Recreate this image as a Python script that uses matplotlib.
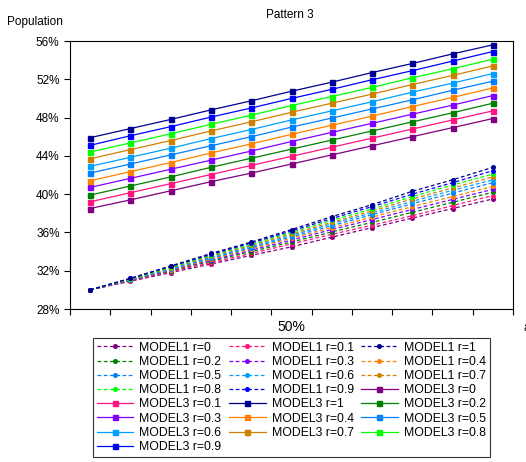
import numpy as np
import matplotlib
matplotlib.use('Agg')
import matplotlib.pyplot as plt
from matplotlib.ticker import FuncFormatter

plt.rcParams['font.family'] = ['Liberation Sans', 'DejaVu Sans']

# r values and colours shared by both models
r_labels = ['0', '0.1', '0.2', '0.3', '0.4', '0.5', '0.6', '0.7', '0.8', '0.9', '1']
colors = ['#800080', '#FF1480', '#008000', '#8000FF', '#FF8000', '#0080FF',
          '#00A0FF', '#D08000', '#00FF00', '#0000FF', '#000090']

# MODEL1 (dashed), population in %
model1 = [
    [30.0, 30.9, 31.8, 32.7, 33.6, 34.5, 35.5, 36.5, 37.5, 38.5, 39.5],
    [30.0, 30.95, 31.9, 32.85, 33.8, 34.8, 35.8, 36.75, 37.75, 38.8, 39.85],
    [30.0, 31.0, 32.0, 33.0, 34.0, 35.0, 36.05, 37.05, 38.1, 39.15, 40.2],
    [30.0, 31.0, 32.05, 33.1, 34.15, 35.2, 36.3, 37.35, 38.4, 39.45, 40.5],
    [30.0, 31.05, 32.1, 33.2, 34.3, 35.4, 36.5, 37.6, 38.7, 39.75, 40.8],
    [30.0, 31.05, 32.15, 33.3, 34.4, 35.55, 36.7, 37.85, 39.0, 40.1, 41.2],
    [30.0, 31.1, 32.25, 33.4, 34.55, 35.7, 36.9, 38.05, 39.25, 40.4, 41.5],
    [30.0, 31.1, 32.3, 33.5, 34.65, 35.85, 37.05, 38.25, 39.5, 40.65, 41.8],
    [30.0, 31.15, 32.35, 33.6, 34.75, 36.0, 37.25, 38.45, 39.75, 40.95, 42.1],
    [30.0, 31.2, 32.45, 33.7, 34.9, 36.15, 37.45, 38.7, 40.0, 41.2, 42.45],
    [30.0, 31.2, 32.5, 33.8, 35.0, 36.3, 37.65, 38.9, 40.3, 41.5, 42.8],
]

# MODEL3 (solid)
model3 = [
    [38.5, 39.4, 40.35, 41.3, 42.2, 43.15, 44.1, 45.05, 46.0, 46.95, 47.9],
    [39.2, 40.15, 41.1, 42.05, 43.0, 43.95, 44.9, 45.85, 46.8, 47.75, 48.7],
    [39.9, 40.85, 41.8, 42.8, 43.75, 44.7, 45.65, 46.6, 47.55, 48.5, 49.5],
    [40.7, 41.65, 42.6, 43.55, 44.5, 45.5, 46.45, 47.4, 48.35, 49.3, 50.3],
    [41.4, 42.35, 43.3, 44.3, 45.25, 46.25, 47.2, 48.15, 49.15, 50.1, 51.1],
    [42.2, 43.15, 44.1, 45.05, 46.0, 47.0, 47.95, 48.9, 49.85, 50.85, 51.8],
    [42.9, 43.85, 44.8, 45.8, 46.75, 47.75, 48.7, 49.65, 50.65, 51.6, 52.6],
    [43.7, 44.65, 45.6, 46.6, 47.55, 48.55, 49.5, 50.45, 51.45, 52.4, 53.4],
    [44.4, 45.35, 46.3, 47.3, 48.25, 49.25, 50.2, 51.15, 52.15, 53.1, 54.1],
    [45.1, 46.1, 47.05, 48.05, 49.0, 50.0, 50.95, 51.95, 52.9, 53.9, 54.9],
    [45.9, 46.85, 47.8, 48.8, 49.75, 50.75, 51.7, 52.7, 53.65, 54.65, 55.6],
]

x = np.arange(11)

fig = plt.figure(figsize=(5.26, 4.62), dpi=100)
ax = fig.add_axes([70 / 526, 1 - 309 / 462, 443 / 526, 268 / 462])

handles = {}
for i, r in enumerate(r_labels):
    h, = ax.plot(x, model1[i], linestyle='--', dashes=(3, 2), color=colors[i], lw=0.9,
                 marker='o', ms=2.6, label=f'MODEL1 r={r}')
    handles[('M1', r)] = h
for i, r in enumerate(r_labels):
    h, = ax.plot(x, model3[i], linestyle='-', color=colors[i], lw=0.9,
                 marker='s', ms=3.6, label=f'MODEL3 r={r}')
    handles[('M3', r)] = h

ax.set_xlim(-0.5, 10.5)
ax.set_ylim(28, 56)
ax.set_yticks(np.arange(28, 57, 4))
ax.yaxis.set_major_formatter(FuncFormatter(lambda v, p: f'{v:.0f}%'))
ax.set_xticks(np.arange(-0.5, 11, 1))
ax.set_xticklabels([])
ax.set_xticks([5], ['50%'], minor=True)
ax.tick_params(axis='x', which='minor', length=0, pad=8)
ax.tick_params(axis='both', which='major', direction='out', length=4, width=0.8,
               labelsize=8.5, colors='black')
for s in ax.spines.values():
    s.set_linewidth(0.8)

fig.text(290 / 526, 1 - 15 / 462, 'Pattern 3', ha='center', va='center', fontsize=8.5)
fig.text(7 / 526, 1 - 22 / 462, 'Population', ha='left', va='center', fontsize=8.5)
fig.text(523 / 526, 1 - 328 / 462, 'a', ha='left', va='center', fontsize=8.5)

# legend filled row by row in the reference
order = ([('M1', r) for r in ['0', '0.1', '1', '0.2', '0.3', '0.4', '0.5', '0.6', '0.7', '0.8', '0.9']]
         + [('M3', r) for r in ['0', '0.1', '1', '0.2', '0.3', '0.4', '0.5', '0.6', '0.7', '0.8', '0.9']])
rows = [order[i:i + 3] for i in range(0, len(order), 3)]
colmajor = []
for c in range(3):
    for row in rows:
        if c < len(row):
            colmajor.append(row[c])
leg_h = [handles[k] for k in colmajor]
leg_l = [h.get_label() for h in leg_h]
leg = fig.legend(leg_h, leg_l, ncol=3, loc='upper left',
                 bbox_to_anchor=(93 / 526, 1 - 338 / 462), fontsize=8.8,
                 frameon=True, fancybox=False, edgecolor='black', handlelength=3.0,
                 handletextpad=0.5, columnspacing=0.6, labelspacing=0.18,
                 borderpad=0.3, borderaxespad=0)
leg.get_frame().set_linewidth(0.8)

fig.savefig('out.png', dpi=100)
